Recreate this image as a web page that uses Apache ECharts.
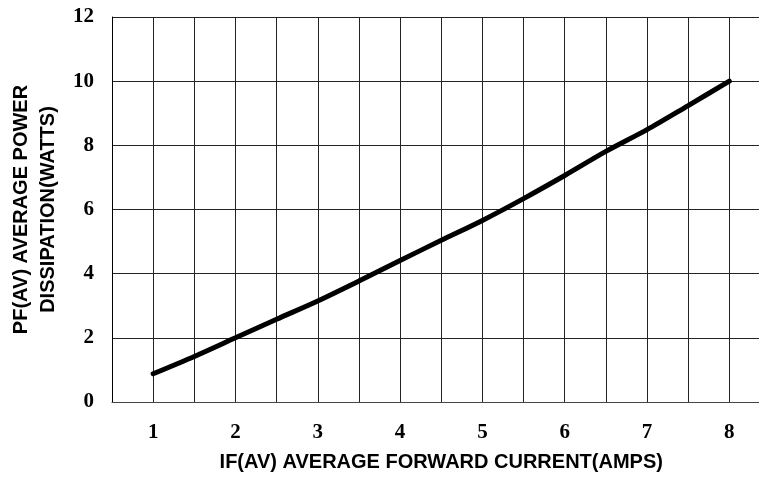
<!DOCTYPE html>
<html>
<head>
<meta charset="utf-8">
<script src="https://cdn.jsdelivr.net/npm/echarts@6/dist/echarts.min.js"></script>
<style>
html,body{margin:0;padding:0;background:#fff;overflow:hidden;width:759px;height:479px;}
#c{width:772px;height:479px;}
</style>
</head>
<body>
<div id="c"></div>
<script>
// Data
const currentAmps = [1, 1.5, 2, 2.5, 3, 3.5, 4, 4.5, 5, 5.5, 6, 6.5, 7, 7.5, 8];
const powerWatts  = [0.88, 1.42, 2.0, 2.58, 3.15, 3.77, 4.41, 5.04, 5.66, 6.34, 7.06, 7.81, 8.49, 9.24, 10.0];
const xTickLabels = ['1','2','3','4','5','6','7','8'];
const yTickLabels = ['0','2','4','6','8','10','12'];
const xAxisTitle = 'IF(AV) AVERAGE FORWARD CURRENT(AMPS)';
const yAxisTitle = 'PF(AV) AVERAGE POWER\nDISSIPATION(WATTS)';

const chart = echarts.init(document.getElementById('c'), null, {renderer: 'canvas'});
const tickFont = {fontFamily: 'Liberation Serif', fontWeight: 'bold', fontSize: 21, color: '#000'};
const titleFont = {fontFamily: 'Liberation Sans', fontWeight: 'bold', fontSize: 20, color: '#000'};

chart.setOption({
  animation: false,
  backgroundColor: '#fff',
  grid: {left: 110, top: 17, right: 1.5, bottom: 77, containLabel: false},
  xAxis: {
    type: 'value', min: 0.5, max: 8.5, interval: 0.5,
    name: xAxisTitle, nameLocation: 'middle', nameGap: 50,
    nameTextStyle: titleFont,
    axisLine: {show: true, onZero: false, lineStyle: {color: '#444', width: 1}},
    axisTick: {show: false},
    splitLine: {show: true, lineStyle: {color: '#222', width: 1}},
    axisLabel: Object.assign({
      margin: 20,
      showMinLabel: false, showMaxLabel: false,
      formatter: v => (Number.isInteger(v) && xTickLabels.includes(String(v))) ? String(v) : ''
    }, tickFont)
  },
  yAxis: {
    type: 'value', min: 0, max: 12, interval: 2,
    name: yAxisTitle, nameLocation: 'middle', nameGap: 50,
    nameTextStyle: Object.assign({lineHeight: 27, align: 'center'}, titleFont),
    axisLine: {show: true, lineStyle: {color: '#000', width: 1}},
    axisTick: {show: false},
    splitLine: {show: true, lineStyle: {color: '#222', width: 1}},
    axisLabel: Object.assign({
      margin: 18,
      formatter: v => yTickLabels.includes(String(v)) ? String(v) : ''
    }, tickFont)
  },
  series: [{
    type: 'line',
    data: currentAmps.map((x, i) => [x, powerWatts[i]]),
    showSymbol: false,
    smooth: 0.3,
    lineStyle: {color: '#000', width: 5, cap: 'round'},
    clip: false
  }]
});
</script>
</body>
</html>
